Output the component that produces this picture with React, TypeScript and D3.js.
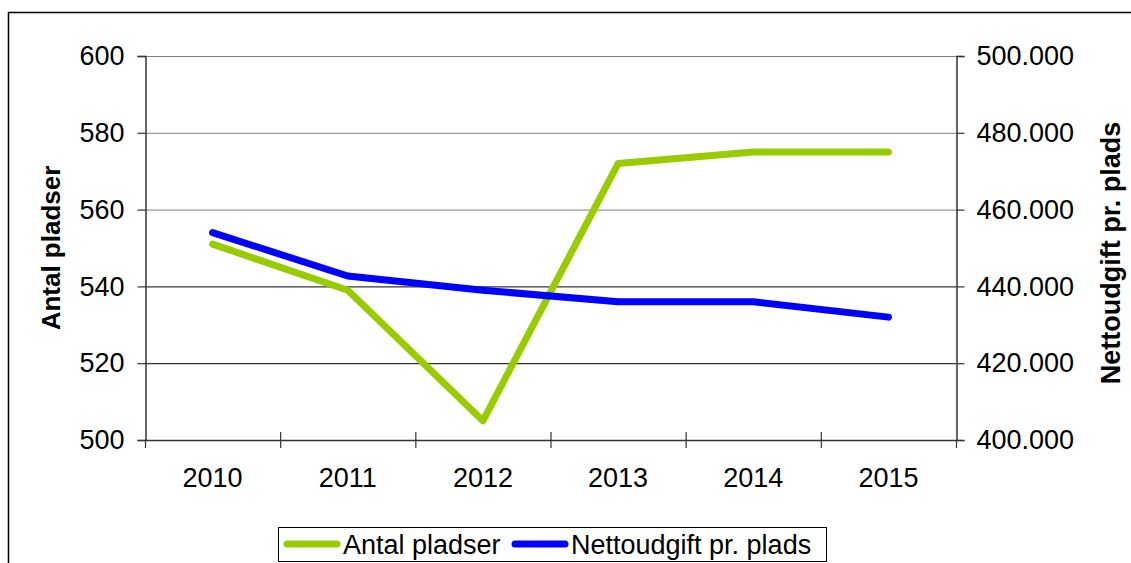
import React, { useEffect, useRef } from 'react';
import * as d3 from 'd3';

const years = ['2010', '2011', '2012', '2013', '2014', '2015'];
const antalPladser = [551, 539, 505, 572, 575, 575];
const nettoudgift = [454000, 442700, 439000, 436000, 436000, 432000];
const leftTicks = [500, 520, 540, 560, 580, 600];
const rightTicks = [400000, 420000, 440000, 460000, 480000, 500000];

const FONT = '"Liberation Sans", Arial, sans-serif';
const GREEN = '#99cc00';
const BLUE = '#0000ff';
const FS = 27;

const daFormat = d3.formatLocale({ decimal: ',', thousands: '.', grouping: [3], currency: ['', ' kr'] }).format(',.0f');

const App = () => {
  const ref = useRef<SVGSVGElement>(null);

  useEffect(() => {
    const svg = d3.select(ref.current);
    svg.selectAll('*').remove();

    const left = 145, right = 956, top = 56, bottom = 440;

    const x = d3.scaleBand().domain(years).range([left, right]);
    const yL = d3.scaleLinear().domain([500, 600]).range([bottom, top]);
    const yR = d3.scaleLinear().domain([400000, 500000]).range([bottom, top]);

    // outer frame (cut by the page edge)
    svg.append('rect')
      .attr('x', 8.5).attr('y', 12.5)
      .attr('width', 1200).attr('height', 700)
      .attr('fill', 'none').attr('stroke', '#000').attr('stroke-width', 1.5);

    // gridlines
    svg.selectAll('.grid')
      .data(leftTicks.slice(1))
      .enter().append('line')
      .attr('x1', left).attr('x2', right)
      .attr('y1', d => yL(d) + 0.5).attr('y2', d => yL(d) + 0.5)
      .attr('stroke', d => (d >= 560 ? '#808080' : '#000'))
      .attr('stroke-width', 1);

    // left axis
    const gL = svg.append('g').attr('transform', `translate(${left + 0.5},0)`)
      .call(d3.axisLeft(yL).tickValues(leftTicks).tickSize(8).tickPadding(13));
    gL.select('.domain').attr('stroke', '#333').attr('stroke-width', 1.5);
    gL.selectAll('.tick line').attr('stroke', '#333').attr('stroke-width', 1.2);
    gL.selectAll('text').attr('font-family', FONT).attr('font-size', FS).attr('fill', '#000');

    // right axis
    const gR = svg.append('g').attr('transform', `translate(${right + 0.5},0)`)
      .call(d3.axisRight(yR).tickValues(rightTicks).tickSize(8).tickPadding(12).tickFormat(d => daFormat(d as number)));
    gR.select('.domain').attr('stroke', '#333').attr('stroke-width', 1.5);
    gR.selectAll('.tick line').attr('stroke', '#333').attr('stroke-width', 1.2);
    gR.selectAll('text').attr('font-family', FONT).attr('font-size', FS).attr('fill', '#000');

    // bottom axis
    svg.append('line')
      .attr('x1', left).attr('x2', right)
      .attr('y1', bottom + 0.5).attr('y2', bottom + 0.5)
      .attr('stroke', '#333').attr('stroke-width', 1.5);
    const bounds = years.map(y => x(y) as number).concat([right]);
    svg.selectAll('.xtick')
      .data(bounds)
      .enter().append('line')
      .attr('x1', d => d + 0.5).attr('x2', d => d + 0.5)
      .attr('y1', (d, i) => (i === 0 || i === bounds.length - 1 ? bottom : bottom - 8))
      .attr('y2', bottom + 8)
      .attr('stroke', '#333').attr('stroke-width', 1.2);
    svg.selectAll('.xlabel')
      .data(years)
      .enter().append('text')
      .attr('x', d => (x(d) as number) + x.bandwidth() / 2)
      .attr('y', 487)
      .attr('text-anchor', 'middle')
      .attr('font-family', FONT).attr('font-size', FS)
      .text(d => d);

    // axis titles
    svg.append('text')
      .attr('transform', `translate(60,${(top + bottom) / 2}) rotate(-90)`)
      .attr('text-anchor', 'middle')
      .attr('font-family', FONT).attr('font-size', 26).attr('font-weight', 'bold')
      .text('Antal pladser');
    svg.append('text')
      .attr('transform', `translate(1120,${(top + bottom) / 2 + 5}) rotate(-90)`)
      .attr('text-anchor', 'middle')
      .attr('font-family', FONT).attr('font-size', FS).attr('font-weight', 'bold')
      .text('Nettoudgift pr. plads');

    const cx = (d: string) => (x(d) as number) + x.bandwidth() / 2;

    const lineL = d3.line<number>().x((d, i) => cx(years[i])).y(d => yL(d));
    const lineR = d3.line<number>().x((d, i) => cx(years[i])).y(d => yR(d));

    svg.append('path')
      .attr('d', lineL(antalPladser))
      .attr('fill', 'none').attr('stroke', GREEN).attr('stroke-width', 7)
      .attr('stroke-linecap', 'round').attr('stroke-linejoin', 'round');
    svg.append('path')
      .attr('d', lineR(nettoudgift))
      .attr('fill', 'none').attr('stroke', BLUE).attr('stroke-width', 7)
      .attr('stroke-linecap', 'round').attr('stroke-linejoin', 'round');

    // legend
    const lg = svg.append('g');
    lg.append('rect')
      .attr('x', 278.5).attr('y', 527.5).attr('width', 548).attr('height', 34)
      .attr('fill', '#fff').attr('stroke', '#000').attr('stroke-width', 1);
    const items = [
      { label: 'Antal pladser', color: GREEN, x0: 287 },
      { label: 'Nettoudgift pr. plads', color: BLUE, x0: 515 },
    ];
    items.forEach(it => {
      lg.append('line')
        .attr('x1', it.x0).attr('x2', it.x0 + 50)
        .attr('y1', 544).attr('y2', 544)
        .attr('stroke', it.color).attr('stroke-width', 7).attr('stroke-linecap', 'round');
      lg.append('text')
        .attr('x', it.x0 + 56).attr('y', 554)
        .attr('font-family', FONT).attr('font-size', FS)
        .text(it.label);
    });
  }, []);

  return (
    <svg
      ref={ref}
      width={1131}
      height={563}
      style={{ position: 'absolute', left: 0, top: 0, background: '#fff' }}
    />
  );
};

export default App;
